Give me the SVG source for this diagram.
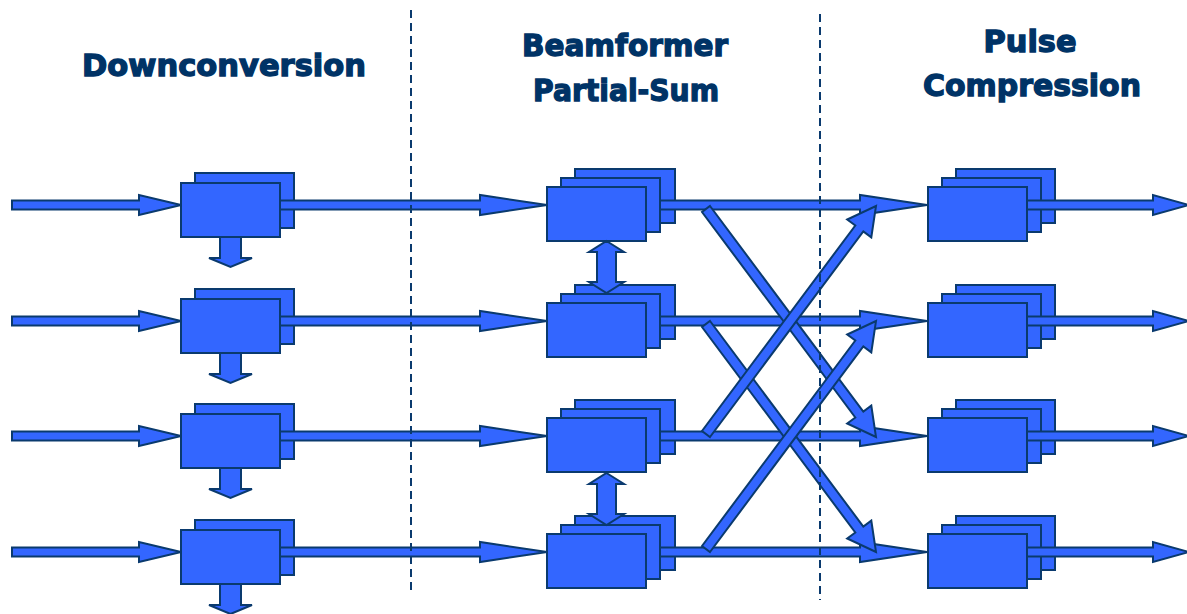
<svg xmlns="http://www.w3.org/2000/svg" width="1187" height="614" viewBox="0 0 1187 614">
<style>
.bg{fill:#ffffff}
.box{fill:#3366ff;stroke:#0a3a6e;stroke-width:2}
.arr{fill:#3366ff;stroke:#0a3a6e;stroke-width:2;stroke-linejoin:miter}
.dash{fill:none;stroke:#0a3a6e;stroke-width:2;stroke-dasharray:8 5}
.title{font-family:"DejaVu Sans","Verdana",sans-serif;font-weight:bold;font-size:31px;fill:#003366;stroke:#003366;stroke-width:1.4;text-anchor:middle}
</style>
<defs>
<polygon id="hin" points="0,-4.5 127,-4.5 127,-10 169,0 127,10 127,4.5 0,4.5"/>
<polygon id="hmid" points="0,-4.5 200,-4.5 200,-10 267,0 200,10 200,4.5 0,4.5"/>
<polygon id="hout" points="0,-4.5 126,-4.5 126,-10 162,0 126,10 126,4.5 0,4.5"/>
<polygon id="down" points="220,0 241,0 241,21 252,21 230.5,30 209,21 220,21"/>
<polygon id="dbl" points="606.5,0 624,11 616,11 616,41 624,41 606.5,52 589,41 597,41 597,11 589,11"/>
</defs>
<rect class="bg" x="0" y="0" width="1187" height="614"/>

<g id="titles">
<text class="title" x="224" y="76" textLength="284" lengthAdjust="spacingAndGlyphs">Downconversion</text>
<text class="title" x="625" y="56" textLength="206" lengthAdjust="spacingAndGlyphs">Beamformer</text>
<text class="title" x="626" y="101" textLength="186" lengthAdjust="spacingAndGlyphs">Partial-Sum</text>
<text class="title" x="1030" y="52" textLength="93" lengthAdjust="spacingAndGlyphs">Pulse</text>
<text class="title" x="1032" y="96" textLength="218" lengthAdjust="spacingAndGlyphs">Compression</text>
</g>

<g id="dc1"><rect class="box" x="195" y="173" width="99" height="55"/><rect class="box" x="181" y="183" width="99" height="54"/></g>
<g id="dc2"><rect class="box" x="195" y="289" width="99" height="55"/><rect class="box" x="181" y="299" width="99" height="54"/></g>
<g id="dc3"><rect class="box" x="195" y="404" width="99" height="55"/><rect class="box" x="181" y="414" width="99" height="54"/></g>
<g id="dc4"><rect class="box" x="195" y="520" width="99" height="55"/><rect class="box" x="181" y="530" width="99" height="54"/></g>

<g id="bf1"><rect class="box" x="575" y="169" width="100" height="54"/><rect class="box" x="561" y="178" width="99" height="54"/><rect class="box" x="547" y="187" width="99" height="54"/></g>
<g id="bf2"><rect class="box" x="575" y="285" width="100" height="54"/><rect class="box" x="561" y="294" width="99" height="54"/><rect class="box" x="547" y="303" width="99" height="54"/></g>
<g id="bf3"><rect class="box" x="575" y="400" width="100" height="54"/><rect class="box" x="561" y="409" width="99" height="54"/><rect class="box" x="547" y="418" width="99" height="54"/></g>
<g id="bf4"><rect class="box" x="575" y="516" width="100" height="54"/><rect class="box" x="561" y="525" width="99" height="54"/><rect class="box" x="547" y="534" width="99" height="54"/></g>

<g id="pc1"><rect class="box" x="956" y="169" width="99" height="54"/><rect class="box" x="942" y="178" width="99" height="54"/><rect class="box" x="928" y="187" width="99" height="54"/></g>
<g id="pc2"><rect class="box" x="956" y="285" width="99" height="54"/><rect class="box" x="942" y="294" width="99" height="54"/><rect class="box" x="928" y="303" width="99" height="54"/></g>
<g id="pc3"><rect class="box" x="956" y="400" width="99" height="54"/><rect class="box" x="942" y="409" width="99" height="54"/><rect class="box" x="928" y="418" width="99" height="54"/></g>
<g id="pc4"><rect class="box" x="956" y="516" width="99" height="54"/><rect class="box" x="942" y="525" width="99" height="54"/><rect class="box" x="928" y="534" width="99" height="54"/></g>

<g id="connectors">
<use href="#hin" class="arr" transform="translate(12,205)"/>
<use href="#hin" class="arr" transform="translate(12,321)"/>
<use href="#hin" class="arr" transform="translate(12,436)"/>
<use href="#hin" class="arr" transform="translate(12,552)"/>

<use href="#hmid" class="arr" transform="translate(280,205)"/>
<use href="#hmid" class="arr" transform="translate(280,321)"/>
<use href="#hmid" class="arr" transform="translate(280,436)"/>
<use href="#hmid" class="arr" transform="translate(280,552)"/>

<use href="#hmid" class="arr" transform="translate(660,205)"/>
<use href="#hmid" class="arr" transform="translate(660,321)"/>
<use href="#hmid" class="arr" transform="translate(660,436)"/>
<use href="#hmid" class="arr" transform="translate(660,552)"/>

<use href="#hout" class="arr" transform="translate(1027,205)"/>
<use href="#hout" class="arr" transform="translate(1027,321)"/>
<use href="#hout" class="arr" transform="translate(1027,436)"/>
<use href="#hout" class="arr" transform="translate(1027,552)"/>

<use href="#down" class="arr" transform="translate(0,237)"/>
<use href="#down" class="arr" transform="translate(0,353)"/>
<use href="#down" class="arr" transform="translate(0,468)"/>
<use href="#down" class="arr" transform="translate(0,584)"/>

<use href="#dbl" class="arr" transform="translate(0,241)"/>
<use href="#dbl" class="arr" transform="translate(0,473)"/>

<polygon class="arr" points="710.0,206.0 863.3,411.6 871.3,405.6 876,437 847.2,423.5 855.3,417.5 702.0,212.0"/>
<polygon class="arr" points="710.0,321.0 863.3,526.6 871.3,520.6 876,552 847.2,538.5 855.3,532.5 702.0,327.0"/>
<polygon class="arr" points="710.0,437.0 863.3,231.4 871.3,237.4 876,206 847.2,219.5 855.3,225.5 702.0,431.0"/>
<polygon class="arr" points="710.0,552.0 863.3,346.4 871.3,352.4 876,321 847.2,334.5 855.3,340.5 702.0,546.0"/>
</g>

<g id="dividers">
<line class="dash" x1="411" y1="10" x2="411" y2="590"/>
<line class="dash" x1="820" y1="14" x2="820" y2="600"/>
</g>
</svg>
